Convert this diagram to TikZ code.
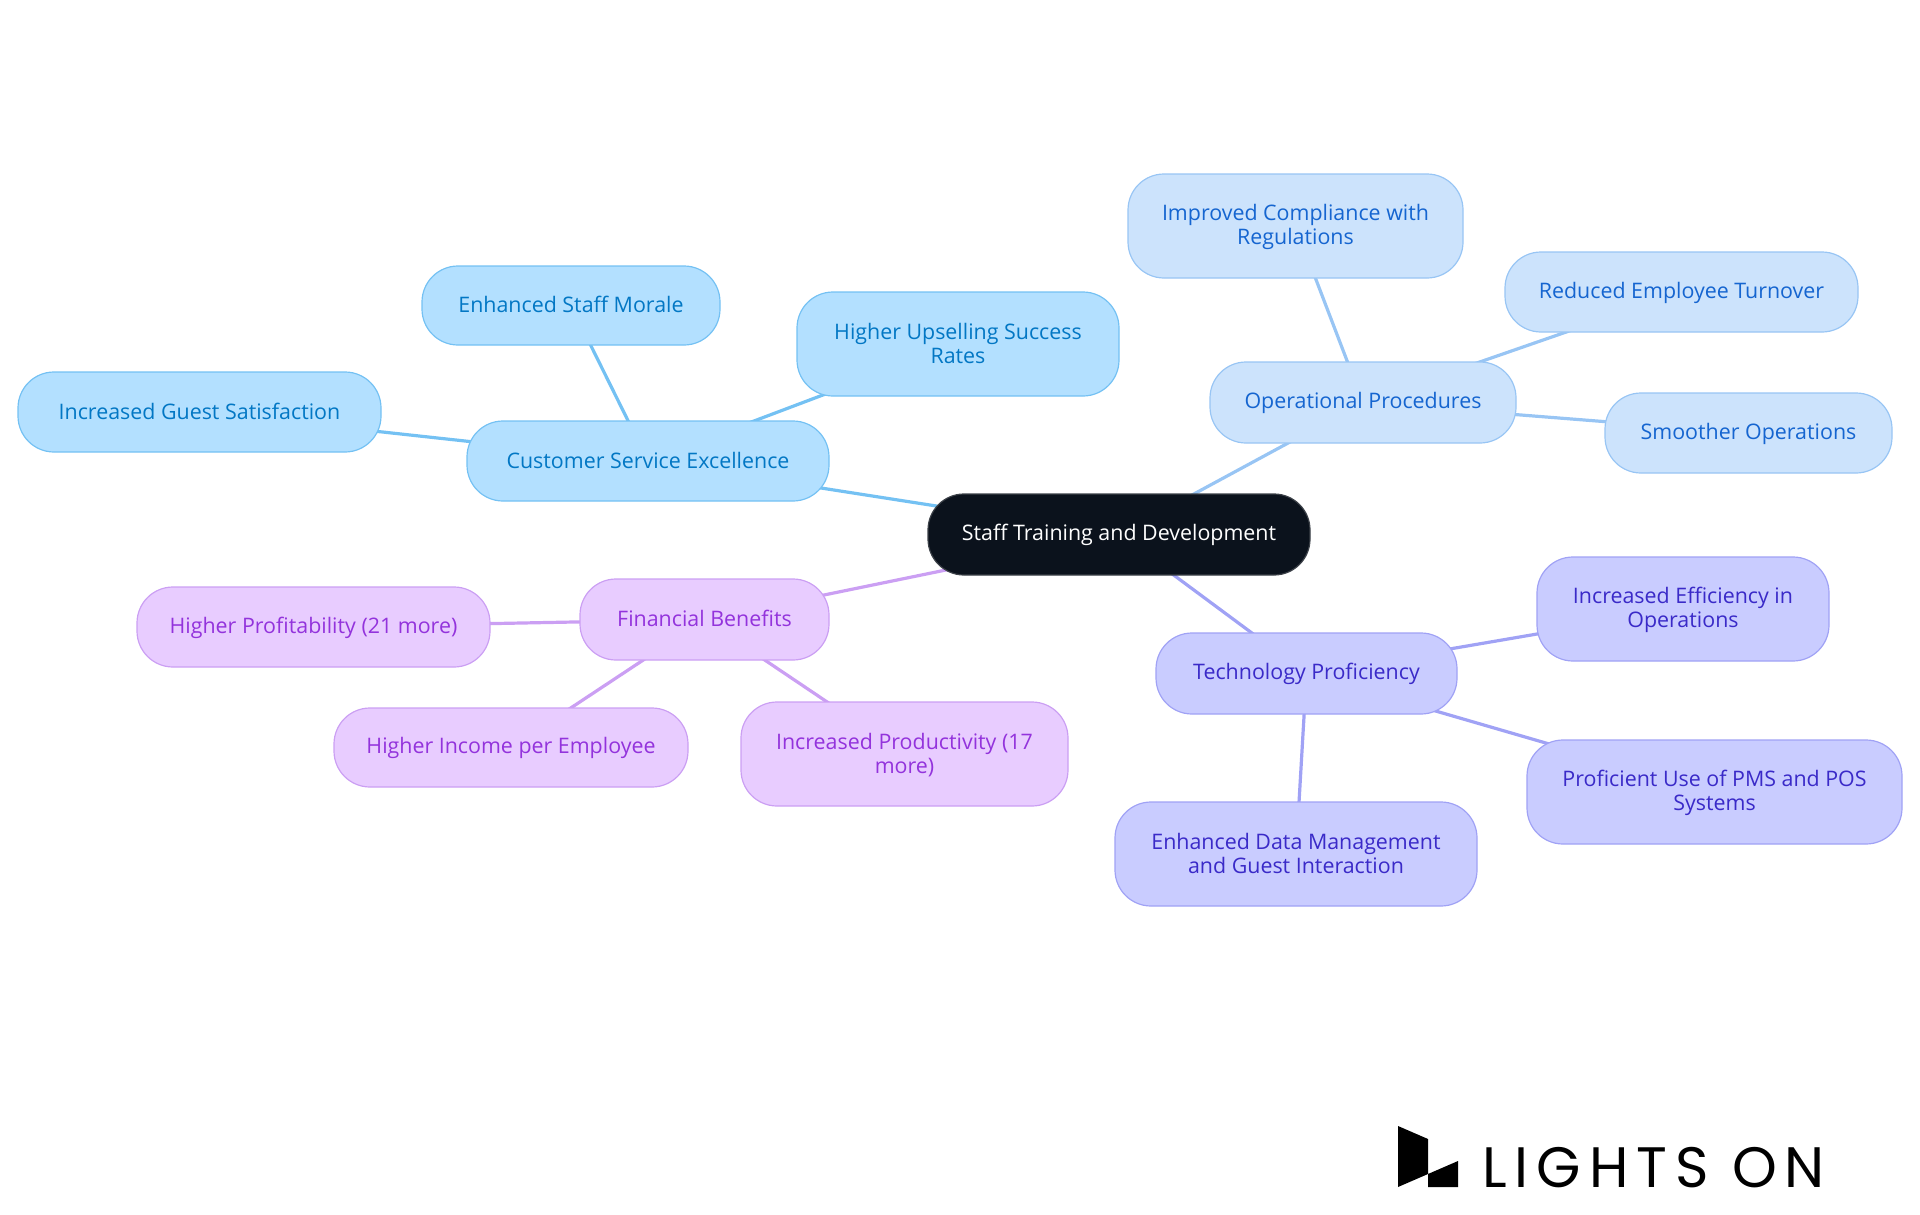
\documentclass[tikz,border=0pt]{standalone}
\usepackage{fontspec}
\setmainfont{Open Sans}
\newfontfamily\logofont[LetterSpace=14]{Poppins}
\usetikzlibrary{backgrounds}
\definecolor{rootfill}{HTML}{0B121C}
\definecolor{rootline}{HTML}{3C4148}
\definecolor{bfill}{HTML}{B3E0FF}
\definecolor{bline}{HTML}{74C1F3}
\definecolor{btext}{HTML}{0277C4}
\definecolor{lfill}{HTML}{CCE3FC}
\definecolor{lline}{HTML}{98C5F4}
\definecolor{ltext}{HTML}{1565D0}
\definecolor{ifill}{HTML}{C9CCFF}
\definecolor{iline}{HTML}{A0A2F5}
\definecolor{itext}{HTML}{3A2AC8}
\definecolor{pfill}{HTML}{E8CCFF}
\definecolor{pline}{HTML}{CB9FF3}
\definecolor{ptext}{HTML}{9333DC}
\tikzset{
  x=1pt,y=-1pt,
  box/.style={rounded corners=36pt,inner sep=0pt,line width=1.2pt,align=center,font=\fontsize{21.4}{24}\selectfont},
  rootbox/.style={box,fill=rootfill,draw=rootline,text=white},
  bluebox/.style={box,fill=bfill,draw=bline,text=btext},
  lightbox/.style={box,fill=lfill,draw=lline,text=ltext},
  indigobox/.style={box,fill=ifill,draw=iline,text=itext},
  purplebox/.style={box,fill=pfill,draw=pline,text=ptext},
  link/.style={line width=3.2pt},
}
\newcommand{\mmstrut}{\rule[-4pt]{0pt}{22pt}}
% #1 style, #2 name, #3-#6 x0,y0,x1,y1, #7 text
\newcommand{\mmnode}[7]{%
  \pgfmathsetmacro{\mmw}{#5-#3}\pgfmathsetmacro{\mmh}{#6-#4}%
  \pgfmathsetmacro{\mmx}{(#3+#5)/2}\pgfmathsetmacro{\mmy}{(#4+#6)/2}%
  \node[#1,minimum width=\mmw pt,minimum height=\mmh pt] (#2) at (\mmx,\mmy) {\mmstrut #7\mmstrut};}
\begin{document}
\begin{tikzpicture}
\useasboundingbox (0,0) rectangle (1920,1215);
\mmnode{rootbox}{root}{928}{494}{1310}{575}{Staff Training and Development}
\mmnode{bluebox}{cse}{467}{421}{829}{501}{Customer Service Excellence}
\mmnode{bluebox}{morale}{422}{266}{720}{345}{Enhanced Staff Morale}
\mmnode{bluebox}{upsell}{797}{292}{1119}{396}{Higher Upselling Success\\Rates}
\mmnode{bluebox}{guest}{18}{372}{381}{452}{Increased Guest Satisfaction}
\mmnode{lightbox}{ops}{1210}{362}{1516}{443}{Operational Procedures}
\mmnode{lightbox}{compliance}{1128}{174}{1463}{278}{Improved Compliance with\\Regulations}
\mmnode{lightbox}{turnover}{1505}{252}{1858}{332}{Reduced Employee Turnover}
\mmnode{lightbox}{smoother}{1605}{393}{1892}{473}{Smoother Operations}
\mmnode{indigobox}{tech}{1156}{633}{1457}{714}{Technology Proficiency}
\mmnode{indigobox}{efficiency}{1537}{557}{1829}{661}{Increased Efficiency in\\Operations}
\mmnode{indigobox}{pms}{1527}{740}{1902}{844}{Proficient Use of PMS and POS\\Systems}
\mmnode{indigobox}{data}{1115}{802}{1477}{906}{Enhanced Data Management\\and Guest Interaction}
\mmnode{purplebox}{fin}{580}{579}{829}{660}{Financial Benefits}
\mmnode{purplebox}{profit}{137}{587}{490}{667}{Higher Profitability (21 more)}
\mmnode{purplebox}{income}{334}{708}{688}{787}{Higher Income per Employee}
\mmnode{purplebox}{prod}{741}{702}{1068}{806}{Increased Productivity (17\\more)}
\begin{scope}[on background layer]
\draw[link,bline] (root.center)--(cse.center) (cse.center)--(morale.center) (cse.center)--(upsell.center) (cse.center)--(guest.center);
\draw[link,lline] (root.center)--(ops.center) (ops.center)--(compliance.center) (ops.center)--(turnover.center) (ops.center)--(smoother.center);
\draw[link,iline] (root.center)--(tech.center) (tech.center)--(efficiency.center) (tech.center)--(pms.center) (tech.center)--(data.center);
\draw[link,pline] (root.center)--(fin.center) (fin.center)--(profit.center) (fin.center)--(income.center) (fin.center)--(prod.center);
\end{scope}
\fill[black] (1398,1126)--(1428,1139)--(1428,1174)--(1458,1161)--(1458,1187)--(1428,1187)--(1428,1174)--(1398,1187)--cycle;
\node[anchor=base west,inner sep=0pt,font=\logofont\fontsize{57}{57}\selectfont] (logo) at (1482,1187) {LIGHTS ON};
\end{tikzpicture}
\end{document}
